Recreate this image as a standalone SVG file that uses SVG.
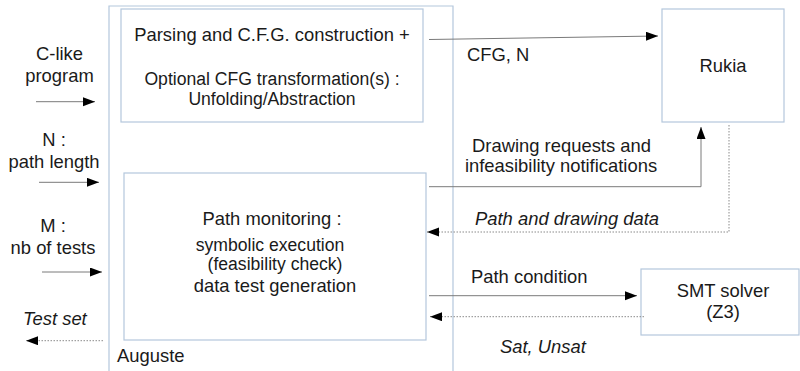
<svg xmlns="http://www.w3.org/2000/svg" width="800" height="371" viewBox="0 0 800 371">
<style>
  text { font-family: "Liberation Sans", Arial, sans-serif; font-size: 18.4px; fill: #1a1a1a; }
  .c { text-anchor: middle; }
  .i { font-style: italic; }
  .t { font-size: 17.6px; }
  .box { fill: #ffffff; stroke: #b4c7dc; stroke-width: 1.2; }
  .frame { fill: none; stroke: #b4c7dc; stroke-width: 1.2; }
  .ln { fill: none; stroke: #7a7a7a; stroke-width: 1; }
  .dot { fill: none; stroke: #8a8a8a; stroke-width: 1; stroke-dasharray: 1.5 1.5; }
</style>
<defs>
  <marker id="ah" markerUnits="userSpaceOnUse" markerWidth="14" markerHeight="10" refX="12" refY="4.5" orient="auto">
    <path d="M0,0 L12,4.5 L0,9 Z" fill="#000"/>
  </marker>
</defs>
<g id="auguste">
  <path class="frame" d="M109,371 V6 H453 V371"/>
  <text x="117" y="361.5">Auguste</text>
</g>
<g id="parsing">
  <rect class="box" x="121" y="9" width="302" height="113"/>
  <text class="c" x="272" y="40.5">Parsing and C.F.G. construction +</text>
  <text class="c t" x="272" y="85">Optional CFG transformation(s) :</text>
  <text class="c t" x="272" y="104.5">Unfolding/Abstraction</text>
</g>
<g id="monitoring">
  <rect class="box" x="124" y="173" width="302" height="167"/>
  <text class="c" x="272" y="225">Path monitoring :</text>
  <text class="c t" x="270" y="250.5">symbolic execution</text>
  <text class="c t" x="275" y="270">(feasibility check)</text>
  <text class="c" x="275" y="292">data test generation</text>
</g>
<g id="rukia">
  <rect class="box" x="662" y="9" width="122" height="113"/>
  <text class="c" x="723" y="72">Rukia</text>
</g>
<g id="smt">
  <rect class="box" x="641" y="269" width="158" height="66"/>
  <text class="c" x="723" y="297">SMT solver</text>
  <text class="c" x="723" y="318">(Z3)</text>
</g>
<g id="inputs">
  <text class="c" x="59.5" y="60">C-like</text>
  <text class="c" x="59.5" y="81.5">program</text>
  <text class="c" x="54" y="146">N :</text>
  <text class="c" x="54" y="168">path length</text>
  <text class="c" x="53" y="231.5">M :</text>
  <text class="c" x="53" y="254">nb of tests</text>
  <text class="i" x="23" y="325">Test set</text>
</g>
<g id="connectors">
  <line class="ln" x1="36" y1="101.7" x2="95" y2="101.7" marker-end="url(#ah)"/>
  <line class="ln" x1="39" y1="182.3" x2="99" y2="182.3" marker-end="url(#ah)"/>
  <line class="ln" x1="42" y1="272" x2="102" y2="272" marker-end="url(#ah)"/>
  <line class="dot" x1="103" y1="340.7" x2="26" y2="340.7" marker-end="url(#ah)"/>
  <line class="ln" x1="429" y1="39.5" x2="658" y2="36" marker-end="url(#ah)"/>
  <text x="467" y="61">CFG, N</text>
  <polyline class="ln" points="429,186.7 701,186.7 701,127" marker-end="url(#ah)"/>
  <text class="c" x="561.5" y="152">Drawing requests and</text>
  <text class="c" x="561" y="172">infeasibility notifications</text>
  <polyline class="dot" points="729,125 729,232 427,232" marker-end="url(#ah)"/>
  <text class="i" x="475" y="225">Path and drawing data</text>
  <line class="ln" x1="429" y1="295.7" x2="637" y2="295.7" marker-end="url(#ah)"/>
  <text x="471" y="283">Path condition</text>
  <line class="dot" x1="644" y1="316.7" x2="430" y2="316.7" marker-end="url(#ah)"/>
  <text class="i" x="500" y="353">Sat, Unsat</text>
</g>
</svg>
